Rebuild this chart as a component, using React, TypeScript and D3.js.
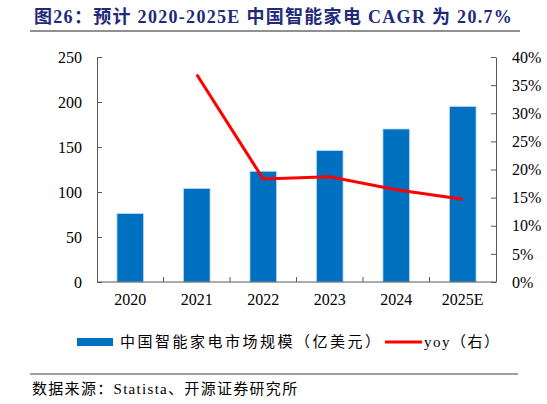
import * as d3 from "d3"
import { useEffect, useRef } from "react"

const YEARS = ["2020", "2021", "2022", "2023", "2024", "2025E"]
const MARKET = [76, 104, 123, 146, 170, 195]
const YOY = [null, 0.369, 0.183, 0.187, 0.164, 0.147]
const LEFT_TICKS = [0, 50, 100, 150, 200, 250]
const RIGHT_TICKS = [0, 0.05, 0.1, 0.15, 0.2, 0.25, 0.3, 0.35, 0.4]

const TITLE = "图26：预计 2020-2025E 中国智能家电 CAGR 为 20.7%"
const BAR_LABEL = "中国智能家电市场规模（亿美元）"
const LINE_LABEL = "yoy（右）"
const SOURCE = "数据来源：Statista、开源证券研究所"

const SERIF = "'Liberation Serif', 'Times New Roman', 'Noto Sans CJK SC', serif"
const BLUE = "#0070C0"
const RED = "#FF0000"
const AXIS = "#595959"

export default function App() {
  const ref = useRef<SVGSVGElement | null>(null)

  useEffect(() => {
    if (!ref.current) return
    const width = 547
    const height = 404
    const margin = { top: 57, right: 51, bottom: 122, left: 97 }

    const svg = d3.select(ref.current)
    svg.selectAll("*").remove()
    svg.attr("viewBox", `0 0 ${width} ${height}`)

    svg.append("rect").attr("width", width).attr("height", height).attr("fill", "#fff")

    // title
    svg
      .append("text")
      .attr("x", 34)
      .attr("y", 23)
      .attr("font-family", SERIF)
      .attr("font-weight", "bold")
      .attr("font-size", 18)
      .attr("letter-spacing", 1.3)
      .attr("fill", "#1F2A7A")
      .text(TITLE)

    svg
      .append("line")
      .attr("x1", 30)
      .attr("x2", 520)
      .attr("y1", 31)
      .attr("y2", 31)
      .attr("stroke", "#6b6b6b")
      .attr("stroke-width", 1.5)

    const x = d3
      .scaleBand<string>()
      .domain(YEARS)
      .range([margin.left, width - margin.right])
      .paddingInner(0.6)
      .paddingOuter(0.3)

    const bounds = d3
      .scaleBand<string>()
      .domain(YEARS)
      .range([margin.left, width - margin.right])

    const y = d3
      .scaleLinear()
      .domain([0, 250])
      .range([height - margin.bottom, margin.top])

    const y2 = d3
      .scaleLinear()
      .domain([0, 0.4])
      .range([height - margin.bottom, margin.top])

    // bars
    svg
      .append("g")
      .selectAll("rect")
      .data(YEARS)
      .join("rect")
      .attr("x", (d) => x(d)!)
      .attr("y", (_, i) => y(MARKET[i]))
      .attr("width", x.bandwidth())
      .attr("height", (_, i) => y(0) - y(MARKET[i]))
      .attr("fill", BLUE)
      .attr("stroke", "#BDD7EE")
      .attr("stroke-width", 0.8)

    // left axis
    const left = svg
      .append("g")
      .attr("transform", `translate(${margin.left},0)`)
      .call(
        d3
          .axisLeft(y)
          .tickValues(LEFT_TICKS)
          .tickSizeInner(-5)
          .tickSizeOuter(0)
          .tickPadding(15)
      )
    left.selectAll("path, line").attr("stroke", AXIS)
    left
      .selectAll("text")
      .attr("fill", "#000")
      .attr("font-family", SERIF)
      .attr("font-size", 16)

    // right axis
    const right = svg
      .append("g")
      .attr("transform", `translate(${width - margin.right},0)`)
      .call(
        d3
          .axisRight(y2)
          .tickValues(RIGHT_TICKS)
          .tickFormat(d3.format(".0%"))
          .tickSizeInner(-5)
          .tickSizeOuter(0)
          .tickPadding(16)
      )
    right.selectAll("path, line").attr("stroke", AXIS)
    right
      .selectAll("text")
      .attr("fill", "#000")
      .attr("font-family", SERIF)
      .attr("font-size", 16)

    // bottom axis
    const bottom = svg
      .append("g")
      .attr("transform", `translate(0,${height - margin.bottom})`)
      .call(d3.axisBottom(x).tickSize(0).tickPadding(12))
    bottom.select("path").attr("stroke", AXIS).attr("d", `M${margin.left},0H${width - margin.right}`)
    bottom
      .selectAll("text")
      .attr("fill", "#000")
      .attr("font-family", SERIF)
      .attr("font-size", 16)
      .attr("dy", "0.71em")

    svg
      .append("g")
      .selectAll("line")
      .data(YEARS.slice(1))
      .join("line")
      .attr("x1", (d) => bounds(d)!)
      .attr("x2", (d) => bounds(d)!)
      .attr("y1", y(0))
      .attr("y2", y(0) - 5)
      .attr("stroke", AXIS)

    // yoy line
    const line = d3
      .line<number | null>()
      .defined((d) => d !== null)
      .x((_, i) => x(YEARS[i])! + x.bandwidth() / 2)
      .y((d) => y2(d as number))

    svg
      .append("path")
      .datum(YOY)
      .attr("d", line)
      .attr("fill", "none")
      .attr("stroke", RED)
      .attr("stroke-width", 3)

    // legend
    const lg = svg.append("g").attr("font-family", SERIF).attr("font-size", 15)
    lg.append("rect").attr("x", 77).attr("y", 338).attr("width", 36).attr("height", 8).attr("fill", BLUE)
    lg.append("text")
      .attr("x", 120)
      .attr("y", 347)
      .attr("fill", "#000")
      .attr("letter-spacing", 2.5)
      .text(BAR_LABEL)
    lg.append("line")
      .attr("x1", 385)
      .attr("x2", 422)
      .attr("y1", 342)
      .attr("y2", 342)
      .attr("stroke", RED)
      .attr("stroke-width", 3)
    lg.append("text")
      .attr("x", 424)
      .attr("y", 347)
      .attr("fill", "#000")
      .attr("letter-spacing", 1.5)
      .text(LINE_LABEL)

    svg
      .append("line")
      .attr("x1", 30)
      .attr("x2", 518)
      .attr("y1", 374)
      .attr("y2", 374)
      .attr("stroke", "#808080")
      .attr("stroke-width", 1.5)

    svg
      .append("text")
      .attr("x", 32)
      .attr("y", 394)
      .attr("font-family", SERIF)
      .attr("font-size", 15)
      .attr("letter-spacing", 1.3)
      .attr("fill", "#000")
      .text(SOURCE)
  }, [])

  return (
    <svg
      ref={ref}
      width={547}
      height={404}
      style={{ position: "absolute", left: 0, top: 0 }}
    />
  )
}
